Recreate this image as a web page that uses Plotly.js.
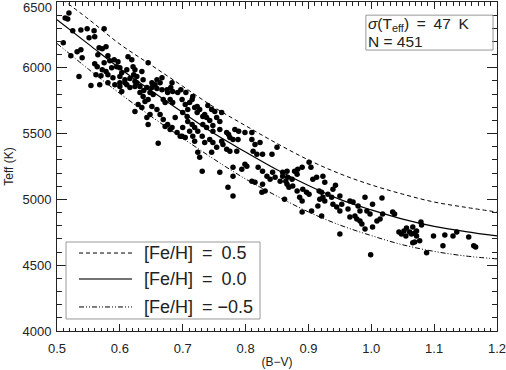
<!DOCTYPE html>
<html>
<head>
<meta charset="utf-8">
<script src="https://cdn.plot.ly/plotly-3.0.1.min.js"></script>
<style>
  html, body { margin: 0; padding: 0; background: #fff; }
  #chart { width: 506px; height: 370px; }
</style>
</head>
<body>
<div id="chart"></div>
<script>
// stars: (B-V) colour and Teff
const bv = [
  0.519, 0.513, 0.517, 0.510, 0.525, 0.538, 0.548, 0.559, 0.575, 0.551, 0.560, 0.522, 0.532, 0.540,
  0.538, 0.567, 0.572, 0.578, 0.565, 0.581, 0.560, 0.564, 0.575, 0.584, 0.591, 0.597, 0.595, 0.600,
  0.572, 0.578, 0.587, 0.621, 0.624, 0.645, 0.535, 0.562, 0.570, 0.581, 0.589, 0.600, 0.608, 0.627,
  0.635, 0.554, 0.568, 0.581, 0.592, 0.600, 0.611, 0.616, 0.624, 0.603, 0.638, 0.651,
  0.603, 0.611, 0.622, 0.616, 0.624, 0.608, 0.600, 0.627, 0.632, 0.637, 0.651, 0.656, 0.664, 0.659,
  0.667, 0.648, 0.653, 0.643, 0.632, 0.637, 0.640, 0.645, 0.675, 0.676, 0.683, 0.680, 0.684, 0.669,
  0.692, 0.697, 0.699, 0.704, 0.711, 0.716, 0.723, 0.727, 0.732, 0.629, 0.635, 0.651, 0.659, 0.648,
  0.643, 0.664, 0.669, 0.676, 0.680, 0.683, 0.691, 0.696, 0.708, 0.715, 0.711, 0.724, 0.731, 0.624,
  0.645, 0.700, 0.707, 0.613, 0.619,
  0.667, 0.659, 0.681, 0.684, 0.705, 0.672, 0.740, 0.746, 0.751, 0.743, 0.748, 0.759, 0.672, 0.700,
  0.688, 0.715,
  0.708, 0.719, 0.723, 0.735, 0.738, 0.754, 0.762, 0.719, 0.732, 0.738, 0.748, 0.759, 0.770, 0.773,
  0.783, 0.789, 0.799, 0.810, 0.699, 0.704, 0.716, 0.719, 0.735, 0.743, 0.748, 0.762, 0.764, 0.775,
  0.780, 0.788, 0.754, 0.770, 0.775, 0.786, 0.724, 0.727, 0.746, 0.810, 0.815, 0.823, 0.812, 0.818,
  0.827, 0.842, 0.850, 0.731, 0.759, 0.780, 0.794, 0.799, 0.802, 0.780, 0.820, 0.827, 0.810, 0.815,
  0.834, 0.839, 0.847, 0.855, 0.859, 0.866, 0.864, 0.772, 0.827,
  0.661, 0.780, 0.826, 0.831, 0.862,
  0.901, 0.904, 0.890, 0.843, 0.859, 0.867, 0.874, 0.878, 0.882, 0.883, 0.866, 0.869, 0.875, 0.882,
  0.886, 0.890, 0.897, 0.901, 0.891, 0.907, 0.913, 0.923, 0.926, 0.917, 0.921, 0.918, 0.923, 0.926,
  0.915, 0.931, 0.937, 0.939, 0.945, 0.950, 0.953, 0.905, 0.921, 0.890, 0.966, 0.971, 0.963, 0.966,
  0.979, 0.982, 0.974, 0.977, 0.990, 0.993, 0.998, 0.982, 0.985, 1.002, 1.009, 1.014, 1.018, 0.990,
  0.950,
  0.943, 0.939, 0.950, 1.017, 1.002, 1.034, 1.037, 1.044, 1.048, 1.052, 1.056, 1.061, 1.066, 1.069,
  1.072, 1.055, 1.064, 1.066, 1.069, 1.079, 1.080, 1.072, 1.099, 1.117, 1.130, 1.136, 1.155, 1.114,
  1.163, 1.166,
  0.999, 1.077, 1.088
];
const teff = [
  6417, 6379, 6371, 6190, 6281, 6288, 6296, 6281, 6296, 6228, 6235, 6092, 6122, 6076,
  6137, 6152, 6144, 6160, 6099, 6092, 6031, 6008, 6039, 6054, 6061, 6046, 6008, 6001,
  5986, 5971, 6001, 6008, 5986, 6039, 5933, 5948, 5940, 5948, 5925, 5933, 5910, 5933,
  5971, 5865, 5872, 5887, 5872, 5857, 5872, 5850, 5857, 5819, 5827, 5850,
  5963, 5986, 5948, 5918, 5895, 5887, 5887, 5887, 5857, 5910, 5887, 5872, 5887, 5842,
  5834, 5812, 5797, 5850, 5812, 5781, 5744, 5759, 5834, 5812, 5887, 5759, 5736, 5759,
  5812, 5834, 5759, 5721, 5736, 5781, 5706, 5683, 5630, 5721, 5698, 5706, 5683, 5645,
  5623, 5645, 5607, 5570, 5532, 5547, 5509, 5479, 5592, 5570, 5517, 5517, 5479, 5668,
  5570, 5660, 5630, 6084, 6061,
  5925, 5910, 5850, 5819, 5812, 5736, 5713, 5683, 5668, 5600, 5562, 5592, 5554, 5547,
  5623, 5759,
  5683, 5698, 5660, 5645, 5623, 5623, 5660, 5547, 5570, 5547, 5517, 5532, 5509, 5494,
  5532, 5517, 5509, 5509, 5479, 5471, 5479, 5441, 5433, 5456, 5433, 5441, 5418, 5471,
  5456, 5456, 5396, 5381, 5365, 5365, 5358, 5320, 5358, 5456, 5418, 5433, 5365, 5343,
  5343, 5343, 5396, 5214, 5207, 5244, 5229, 5267, 5252, 5176, 5244, 5214, 5138, 5131,
  5176, 5154, 5169, 5138, 5207, 5214, 5138, 5093, 5116,
  5426, 5025, 5055, 5063, 5002,
  5282, 5244, 5244, 5207, 5176, 5169, 5154, 5214, 5191, 5229, 5116, 5093, 5101, 5063,
  5017, 4987, 5055, 5040, 5078, 5154, 5169, 5176, 5131, 5063, 5055, 5002, 5017, 4987,
  4949, 5040, 5017, 4964, 4942, 4912, 4964, 4912, 4874, 4904, 4987, 4980, 4927, 4866,
  4949, 4912, 4874, 4851, 5017, 4912, 4889, 4836, 4813, 4964, 4836, 4851, 4889, 4775,
  4738,
  5108, 5078, 5025, 5010, 4790, 4904, 4889, 4753, 4738, 4760, 4783, 4753, 4790, 4745,
  4760, 4722, 4738, 4670, 4677, 4828, 4806, 4722, 4722, 4730, 4722, 4753, 4715, 4647,
  4647, 4639,
  4579, 4685, 4594
];

// calibration curves for three metallicities
const curveBV = [0.50, 0.55, 0.60, 0.65, 0.70, 0.75, 0.80, 0.85, 0.90, 0.95, 1.00, 1.05, 1.10, 1.15, 1.20];
const teffMetalRich = [6550, 6370, 6180, 6020, 5860, 5700, 5560, 5425, 5300, 5195, 5110, 5040, 4980, 4940, 4904];
const teffSolar     = [6365, 6180, 5995, 5825, 5660, 5500, 5360, 5225, 5105, 5000, 4920, 4850, 4795, 4755, 4722];
const teffMetalPoor = [6185, 5990, 5805, 5630, 5465, 5305, 5155, 5025, 4905, 4805, 4725, 4655, 4605, 4570, 4548];

const curveNames = ['[Fe/H]\u2002=\u20020.5', '[Fe/H]\u2002=\u20020.0', '[Fe/H]\u2002= \u22120.5'];
const sigmaText = '<i>\u03c3</i>(T<sub>eff</sub>)\u2002=\u200247\u2002K';
const countText = 'N = 451';

const yTickVals = [4000, 4500, 5000, 5500, 6000];

const FONT = 'Liberation Sans, Arial, sans-serif';
const INK = '#222';
const BOX = '#999';

var stars = {
  x: bv, y: teff,
  type: 'scatter', mode: 'markers',
  marker: {color: '#000', size: 5.5},
  showlegend: false, hoverinfo: 'skip'
};

var dashes = ['4px,3px', 'solid', '5px,2px,1px,2px,1px,2px'];
var curves = [teffMetalRich, teffSolar, teffMetalPoor].map(function(t, i) {
  return {
    x: curveBV, y: t, type: 'scatter', mode: 'lines', name: curveNames[i],
    line: {color: '#000', width: i === 1 ? 1.2 : 1, dash: dashes[i], shape: 'spline'},
    showlegend: false, hoverinfo: 'skip'
  };
});

var xaxis = {
  range: [0.5, 1.2], tick0: 0.5, dtick: 0.1, tickformat: '.1f',
  ticks: 'inside', ticklen: 7, tickcolor: INK, tickwidth: 1,
  minor: {dtick: 0.01, ticks: 'inside', ticklen: 3.5, tickcolor: INK},
  showline: true, linecolor: INK, linewidth: 1, mirror: 'allticks',
  showgrid: false, zeroline: false,
  tickfont: {family: FONT, size: 13, color: INK},
  ticklabelstandoff: 5, ticklabeloverflow: 'allow',
  title: {text: '(B\u2212V)', font: {family: FONT, size: 12, color: INK}, standoff: 3}
};
var yaxis = {
  range: [4000, 6500], tickmode: 'array', tickvals: yTickVals,
  ticks: 'inside', ticklen: 10, tickcolor: INK, tickwidth: 1,
  minor: {dtick: 100, ticks: 'inside', ticklen: 5, tickcolor: INK},
  showline: true, linecolor: INK, linewidth: 1, mirror: 'allticks',
  showgrid: false, zeroline: false,
  tickfont: {family: FONT, size: 13, color: INK},
  ticklabelstandoff: 2, ticklabeloverflow: 'allow',
  title: {text: 'Teff (K)', font: {family: FONT, size: 12, color: INK}, standoff: 6}
};

// hand-made legend box (paper coordinates) so its size matches the figure
var legendRows = [0.237, 0.158, 0.073];
var shapes = [
  {type: 'rect', xref: 'paper', yref: 'paper', x0: 0.0205, x1: 0.4614, y0: 0.0365, y1: 0.2705,
   line: {color: BOX, width: 1}, fillcolor: '#fff', layer: 'above'},
  {type: 'rect', xref: 'paper', yref: 'paper', x0: 0.702, x1: 0.991, y0: 0.854, y1: 0.960,
   line: {color: BOX, width: 1}, fillcolor: 'rgba(0,0,0,0)'}
];
var annotations = [];
legendRows.forEach(function(yy, i) {
  shapes.push({type: 'line', xref: 'paper', yref: 'paper', x0: 0.05, x1: 0.1705, y0: yy, y1: yy,
    line: {color: i === 1 ? '#444' : '#000', width: i === 1 ? 1.6 : 1, dash: dashes[i]}, layer: 'above'});
  annotations.push({xref: 'paper', yref: 'paper', x: 0.193, y: yy, xanchor: 'left', yanchor: 'middle',
    text: curveNames[i], showarrow: false, font: {family: FONT, size: 18, color: INK}});
});
annotations.push(
  {xref: 'paper', yref: 'paper', x: 0.705, y: 0.932, xanchor: 'left', yanchor: 'middle',
   text: sigmaText, showarrow: false, borderpad: 0, font: {family: FONT, size: 15.5, color: INK}},
  {xref: 'paper', yref: 'paper', x: 0.705, y: 0.881, xanchor: 'left', yanchor: 'middle',
   text: countText, showarrow: false, borderpad: 0, font: {family: FONT, size: 15.5, color: INK}},
  // top y label, nudged down so it stays inside the picture like the original
  {xref: 'paper', yref: 'y', x: 0, y: 6500, xanchor: 'right', yanchor: 'middle', xshift: -3, yshift: -5,
   text: '6500', showarrow: false, font: {family: FONT, size: 13, color: INK}}
);

var layout = {
  width: 506, height: 370,
  margin: {l: 57, r: 9, t: 2, b: 39},
  paper_bgcolor: '#fff', plot_bgcolor: '#fff',
  font: {family: FONT, color: INK},
  xaxis, yaxis,
  showlegend: false,
  shapes, annotations
};

Plotly.newPlot('chart', [stars].concat(curves), layout, {displayModeBar: false, staticPlot: true});
</script>
</body>
</html>
